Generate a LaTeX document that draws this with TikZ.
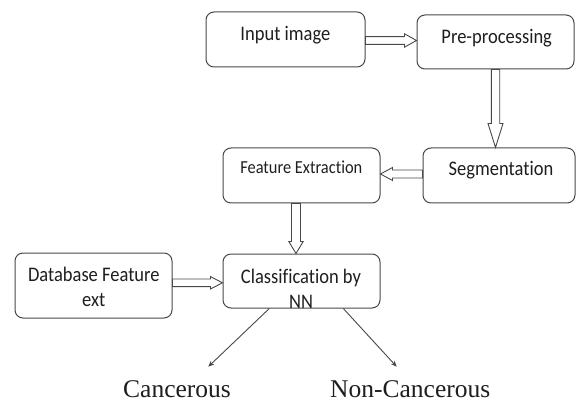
\documentclass[tikz,border=0pt]{standalone}
\usepackage{fontspec}
\usepackage{graphicx}
\setmainfont{Liberation Serif}
\newfontfamily\boxfont[Ligatures=NoCommon]{Carlito}
\usetikzlibrary{arrows.meta,calc}

\definecolor{edgegray}{RGB}{72,72,72}
\definecolor{inkcol}{RGB}{30,30,30}

% slightly tall lettering used inside the boxes
\newcommand\tall[1]{\scalebox{1}[1.12]{#1}}

% hollow block arrow, horizontal: from, to, shaft half-width, head half-width, signed head length
\newcommand\harrow[5]{%
  \draw[hollow] let \p1=(#1), \p2=(#2) in
    (\x1,\y1+#3) -- (\x2-#5,\y1+#3) -- (\x2-#5,\y1+#4) -- (\x2,\y1)
    -- (\x2-#5,\y1-#4) -- (\x2-#5,\y1-#3) -- (\x1,\y1-#3) -- cycle;}
% hollow block arrow pointing down: from, to, shaft half-width, head half-width, head length
\newcommand\varrow[5]{%
  \draw[hollow] let \p1=(#1), \p2=(#2) in
    (\x1+#3,\y1) -- (\x1+#3,\y2+#5) -- (\x1+#4,\y2+#5) -- (\x1,\y2)
    -- (\x1-#4,\y2+#5) -- (\x1-#3,\y2+#5) -- (\x1-#3,\y1) -- cycle;}

\tikzset{
  box/.style={draw=edgegray, line width=1pt, rounded corners=8pt, inner sep=0pt},
  hollow/.style={draw=edgegray, fill=white, line width=0.9pt, line join=miter},
  lbl/.style={anchor=base, inner sep=0pt, text=inkcol,
              font=\boxfont\fontsize{18.5}{22}\selectfont},
  smalllbl/.style={lbl, font=\boxfont\fontsize{16.4}{20}\selectfont},
  outlbl/.style={anchor=base west, inner sep=0pt, text=inkcol,
                 font=\fontsize{25.5}{30}\selectfont},
  thinarrow/.style={draw=edgegray, line width=0.9pt,
                    -{Stealth[length=6pt,width=5pt]}},
}

\begin{document}
\begin{tikzpicture}[x=1pt,y=-1pt]
\useasboundingbox (0,0) rectangle (576,401);

% process boxes
\node[box, minimum width=159pt, minimum height=55pt] (in)  at (285.5,39.5)  {};
\node[box, minimum width=157pt, minimum height=54pt] (pre) at (495.5,42)    {};
\node[box, minimum width=152pt, minimum height=55pt] (seg) at (499,175.5)   {};
\node[box, minimum width=157pt, minimum height=55pt] (fe)  at (301.5,175.5) {};
\node[box, minimum width=157pt, minimum height=54pt] (cls) at (301.5,281)   {};
\node[box, minimum width=157pt, minimum height=65pt] (db)  at (93.5,285.5)  {};

% box captions
\node[lbl] (inT)   at (285.4,41)   {\tall{Input image}};
\node[lbl] (preT)  at (496.7,43.3) {\tall{Pre-processing}};
\node[lbl] (segT)  at (501,175.5)  {\tall{Segmentation}};
\node[smalllbl] (feT) at (301.3,173.3) {\tall{Feature Extraction}};
\node[lbl] (dbT1)  at (93.8,281.7) {\tall{Database Feature}};
\node[lbl] (dbT2)  at (93.8,306.7) {\tall{ext}};
\node[lbl] (clsT1) at (301,283.3)  {\tall{Classification by}};
\node[lbl] (clsT2) at (301,308)    {\tall{NN}};

% block arrows between the stages
\harrow{[yshift=-1pt]in.east}{pre.west}{3.9pt}{6.7pt}{12pt}
\varrow{pre.south}{seg.north}{4.2pt}{7.5pt}{24pt}
\harrow{[yshift=1.5pt]seg.west}{fe.east}{4pt}{6.5pt}{-12pt}
\varrow{[xshift=-5.5pt]fe.south}{cls.north}{4.5pt}{7.2pt}{12pt}
\harrow{[yshift=2.7pt]db.east}{cls.west}{3.8pt}{6.2pt}{12pt}

% outcomes
\coordinate (cA) at (208.3,366.7);
\coordinate (cB) at (396.7,366.7);
\draw[thinarrow] ([xshift=-32.2pt]cls.south) -- (cA);
\draw[thinarrow] ([xshift=41.8pt]cls.south) -- (cB);
\node[outlbl] (canc)    at (123,397) {Cancerous};
\node[outlbl] (noncanc) at (330,397) {Non-Cancerous};
\end{tikzpicture}
\end{document}
